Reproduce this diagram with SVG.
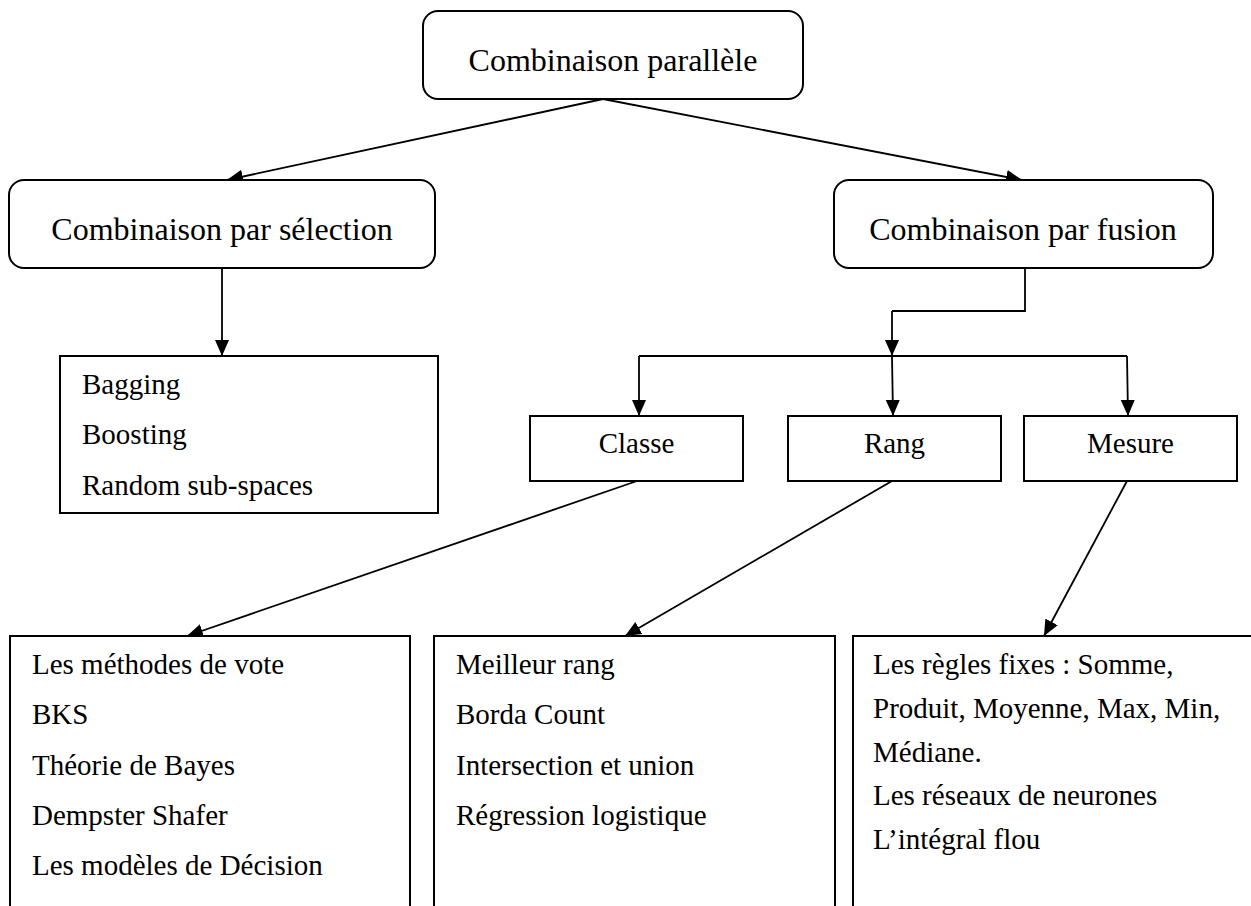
<svg xmlns="http://www.w3.org/2000/svg" width="1251" height="906" viewBox="0 0 1251 906" font-family="'Liberation Serif', Tinos, 'Times New Roman', 'DejaVu Serif', serif">
  <defs>
    <marker id="arrow" markerUnits="userSpaceOnUse" markerWidth="18" markerHeight="16" refX="16" refY="8" orient="auto">
      <path d="M0,1 L16,8 L0,15 z" fill="#000"/>
    </marker>
    <style>
      .box { fill: #fff; stroke: #000; stroke-width: 2; }
      .conn { fill: none; stroke: #000; stroke-width: 1.8; }
      .arr { marker-end: url(#arrow); }
      text { font-family: 'Liberation Serif', Tinos, 'Times New Roman', 'DejaVu Serif', serif; fill: #000; }
      .big { font-size: 32px; text-anchor: middle; }
      .mid { font-size: 29px; text-anchor: middle; }
      .item { font-size: 29px; }
    </style>
  </defs>
  <rect width="1251" height="906" fill="#fff"/>

  <!-- connectors -->
  <g id="connectors">
    <line class="conn arr" x1="603" y1="99" x2="227" y2="180"/>
    <line class="conn arr" x1="603" y1="99" x2="1022" y2="180"/>
    <line class="conn arr" x1="222" y1="268" x2="222" y2="356"/>
    <polyline class="conn" points="1025,268 1025,311 892,311"/>
    <line class="conn arr" x1="892" y1="311" x2="892" y2="356"/>
    <line class="conn" x1="639" y1="356" x2="1127" y2="356"/>
    <line class="conn arr" x1="639" y1="356" x2="639" y2="416"/>
    <line class="conn arr" x1="892" y1="356" x2="893" y2="416"/>
    <line class="conn arr" x1="1127" y1="356" x2="1128" y2="416"/>
    <line class="conn arr" x1="637" y1="481" x2="187" y2="636"/>
    <line class="conn arr" x1="892" y1="481" x2="625" y2="636"/>
    <line class="conn arr" x1="1127" y1="481" x2="1044" y2="636"/>
  </g>

  <!-- top level -->
  <g id="parallele">
    <rect class="box" x="423" y="11" width="380" height="88" rx="15"/>
    <text class="big" x="613" y="71">Combinaison parallèle</text>
  </g>

  <g id="selection">
    <rect class="box" x="9" y="180" width="426" height="88" rx="15"/>
    <text class="big" x="222" y="240">Combinaison par sélection</text>
  </g>

  <g id="fusion">
    <rect class="box" x="834" y="180" width="379" height="88" rx="15"/>
    <text class="big" x="1023" y="240">Combinaison par fusion</text>
  </g>

  <g id="selection-methods">
    <rect class="box" x="60" y="356" width="378" height="157"/>
    <text class="item" x="82" y="394">Bagging</text>
    <text class="item" x="82" y="444">Boosting</text>
    <text class="item" x="82" y="495">Random sub-spaces</text>
  </g>

  <!-- fusion levels -->
  <g id="classe">
    <rect class="box" x="530" y="416" width="213" height="65"/>
    <text class="mid" x="636.5" y="453">Classe</text>
  </g>
  <g id="rang">
    <rect class="box" x="788" y="416" width="213" height="65"/>
    <text class="mid" x="894.5" y="453">Rang</text>
  </g>
  <g id="mesure">
    <rect class="box" x="1024" y="416" width="213" height="65"/>
    <text class="mid" x="1130.5" y="453">Mesure</text>
  </g>

  <!-- method lists -->
  <g id="classe-methods">
    <rect class="box" x="10" y="636" width="400" height="290"/>
    <text class="item" x="32" y="674">Les méthodes de vote</text>
    <text class="item" x="32" y="724">BKS</text>
    <text class="item" x="32" y="775">Théorie de Bayes</text>
    <text class="item" x="32" y="825">Dempster Shafer</text>
    <text class="item" x="32" y="875">Les modèles de Décision</text>
  </g>
  <g id="rang-methods">
    <rect class="box" x="434" y="636" width="401" height="290"/>
    <text class="item" x="456" y="674">Meilleur rang</text>
    <text class="item" x="456" y="724">Borda Count</text>
    <text class="item" x="456" y="775">Intersection et union</text>
    <text class="item" x="456" y="825">Régression logistique</text>
  </g>
  <g id="mesure-methods">
    <rect class="box" x="853" y="636" width="420" height="290"/>
    <text class="item" x="873" y="674">Les règles fixes : Somme,</text>
    <text class="item" x="873" y="718">Produit, Moyenne, Max, Min,</text>
    <text class="item" x="873" y="762">Médiane.</text>
    <text class="item" x="873" y="805">Les réseaux de neurones</text>
    <text class="item" x="873" y="849">L’intégral flou</text>
  </g>
</svg>
